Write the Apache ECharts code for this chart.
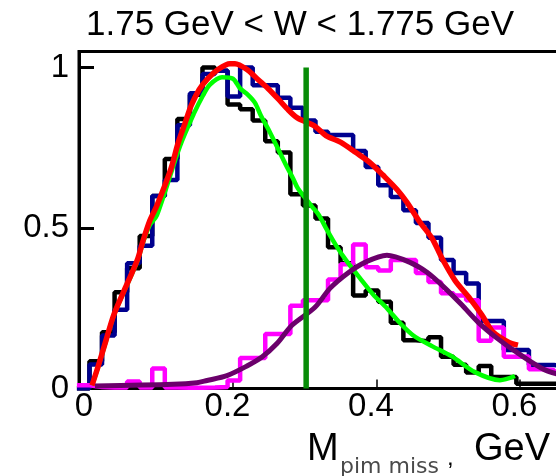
<!DOCTYPE html>
<html>
<head>
<meta charset="utf-8">
<script src="https://cdn.jsdelivr.net/npm/echarts@6/dist/echarts.min.js"></script>
<style>html,body{margin:0;padding:0;background:#fff}#c{width:556px;height:476px}</style>
</head>
<body>
<div id="c"></div>
<script>
// ---- data ----
const titleText = '1.75 GeV < W < 1.775 GeV';
const xTicks = [0, 0.2, 0.4, 0.6];
const yTicks = [0, 0.5, 1];
const binStart = -0.0175;
const binWidth = 0.0175;
// histograms (first entry = bin starting at -0.0175)
const blackHist = [0, 0.085, 0.175, 0.30, 0.375, 0.475, 0.60, 0.715, 0.84, 0.915, 1.0, 0.99, 0.885, 0.87, 0.835, 0.77, 0.735, 0.605, 0.57, 0.53, 0.44, 0.39, 0.29, 0.305, 0.27, 0.205, 0.15, 0.147, 0.16, 0.099, 0.074, 0.05, 0.07, 0.036, 0.036, 0.015, 0.015, 0.015, 0.015, 0.015, 0.015];
const blueHist = [0, 0.075, 0.165, 0.245, 0.39, 0.445, 0.60, 0.65, 0.82, 0.92, 0.98, 0.99, 0.91, 1.0, 0.945, 0.945, 0.906, 0.875, 0.835, 0.80, 0.79, 0.79, 0.74, 0.69, 0.633, 0.597, 0.555, 0.516, 0.47, 0.40, 0.36, 0.327, 0.21, 0.21, 0.12, 0.12, 0.073, 0.073, 0.07, 0.065, 0.06];
const magentaHist = [0.01, 0.005, 0.003, 0.003, 0.022, 0.003, 0.062, 0.003, 0.002, 0.002, 0.003, 0.005, 0.025, 0.095, 0.095, 0.17, 0.17, 0.258, 0.275, 0.275, 0.34, 0.387, 0.449, 0.378, 0.368, 0.40, 0.40, 0.36, 0.332, 0.297, 0.29, 0.275, 0.149, 0.19, 0.099, 0.10, 0.06, 0.058, 0.05, 0.045, 0.04];
// smooth curves
const redX = [0.0035, 0.0118, 0.023, 0.034, 0.0467, 0.0578, 0.0676, 0.0746, 0.0843, 0.094, 0.1136, 0.1233, 0.1331, 0.1415, 0.1526, 0.1652, 0.1791, 0.1958, 0.2028, 0.2195, 0.2348, 0.2488, 0.2627, 0.2753, 0.2892, 0.3129, 0.3296, 0.3505, 0.3714, 0.3909, 0.409, 0.4286, 0.4425, 0.4606, 0.4774, 0.4913, 0.5094, 0.5303, 0.547, 0.5624, 0.5833, 0.5972];
const redY = [0.01, 0.067, 0.15, 0.23, 0.297, 0.353, 0.406, 0.46, 0.524, 0.57, 0.685, 0.763, 0.826, 0.88, 0.93, 0.966, 0.994, 1.012, 1.012, 0.994, 0.963, 0.935, 0.903, 0.872, 0.844, 0.819, 0.788, 0.767, 0.735, 0.704, 0.665, 0.62, 0.58, 0.518, 0.468, 0.406, 0.337, 0.28, 0.229, 0.176, 0.145, 0.135];
const greenX = [0.0035, 0.0118, 0.023, 0.034, 0.0467, 0.0578, 0.0676, 0.0746, 0.0843, 0.094, 0.1261, 0.1456, 0.1582, 0.1679, 0.1847, 0.2, 0.2098, 0.2209, 0.2307, 0.239, 0.2488, 0.2599, 0.2753, 0.2836, 0.2906, 0.3101, 0.3199, 0.3296, 0.3436, 0.3575, 0.377, 0.3951, 0.4146, 0.4328, 0.4509, 0.4774, 0.5052, 0.5373, 0.5721, 0.593];
const greenY = [0.01, 0.065, 0.148, 0.228, 0.295, 0.35, 0.402, 0.455, 0.51, 0.54, 0.755, 0.857, 0.913, 0.947, 0.97, 0.965, 0.935, 0.915, 0.89, 0.85, 0.81, 0.76, 0.69, 0.655, 0.623, 0.567, 0.54, 0.50, 0.446, 0.40, 0.344, 0.294, 0.25, 0.204, 0.166, 0.132, 0.10, 0.051, 0.026, 0.039];
const purpleX = [0.0077, 0.1164, 0.1498, 0.1638, 0.1916, 0.2195, 0.2404, 0.2613, 0.2822, 0.3143, 0.3352, 0.3603, 0.384, 0.4146, 0.4467, 0.4704, 0.4941, 0.5192, 0.5415, 0.5679, 0.5972, 0.6348, 0.67];
const purpleY = [0.008, 0.013, 0.018, 0.025, 0.04, 0.07, 0.098, 0.14, 0.197, 0.253, 0.312, 0.36, 0.393, 0.415, 0.393, 0.362, 0.316, 0.26, 0.207, 0.157, 0.11, 0.058, 0.035];
const cutX = 0.302;
const cutTop = 1.0;

// ---- helpers ----
function histPoints(vals) {
  const pts = vals.map((v, i) => [binStart + i * binWidth, v]);
  pts.push([binStart + vals.length * binWidth, vals[vals.length - 1]]);
  return pts;
}
function zip(xs, ys) { return xs.map((x, i) => [x, ys[i]]); }

const FONT = 'Liberation Sans';
const chart = echarts.init(document.getElementById('c'), null, {renderer: 'canvas'});

function histSeries(vals, color, w) {
  return {type: 'line', data: histPoints(vals), step: 'end', symbol: 'none', clip: true,
    lineStyle: {color: color, width: w}, silent: true};
}
function curveSeries(xs, ys, color, w) {
  return {type: 'line', data: zip(xs, ys), smooth: 0.3, symbol: 'none', clip: true,
    lineStyle: {color: color, width: w}, silent: true};
}

chart.setOption({
  animation: false,
  backgroundColor: '#fff',
  title: {
    text: titleText, left: 86, top: 8, padding: 0,
    textStyle: {fontSize: 35, fontWeight: 'normal', color: '#000', fontFamily: FONT}
  },
  grid: {left: 79, width: 512.7, top: 51.5, height: 337, show: true, borderColor: '#000', borderWidth: 3,
    containLabel: false, outerBoundsMode: 'none'},
  xAxis: {
    type: 'value', min: -0.0146, max: 0.7,
    axisLine: {show: true, onZero: false, lineStyle: {color: '#000', width: 3}},
    axisTick: {show: true, inside: true, length: 9, customValues: xTicks, lineStyle: {color: '#000', width: 1.5}},
    axisLabel: {customValues: xTicks, formatter: v => String(v), fontSize: 33, color: '#000', fontFamily: FONT, margin: 2, padding: [0, 11, 0, 0]},
    splitLine: {show: false}
  },
  yAxis: {
    type: 'value', min: 0, max: 1.05,
    axisLine: {show: true, onZero: false, lineStyle: {color: '#000', width: 3}},
    axisTick: {show: true, inside: true, length: 15, customValues: yTicks, lineStyle: {color: '#000', width: 3}},
    axisLabel: {customValues: yTicks, formatter: v => String(v), fontSize: 33, color: '#000', fontFamily: FONT, margin: 10},
    splitLine: {show: false}
  },
  series: [
    histSeries(blackHist, '#000000', 4.5),
    histSeries(blueHist, '#00008f', 4.5),
    histSeries(magentaHist, '#ff00ff', 4.5),
    curveSeries(greenX, greenY, '#00ff00', 4.5),
    curveSeries(redX, redY, '#ff0000', 5.5),
    curveSeries(purpleX, purpleY, '#6b006b', 5),
    {type: 'line', data: [[cutX, 0], [cutX, cutTop]], symbol: 'none', lineStyle: {color: '#078c07', width: 5.5}, silent: true}
  ],
  graphic: [
    {type: 'text', style: {x: 307, y: 449.8, text: 'M', fontSize: 38, fontFamily: FONT, fill: '#000', align: 'left', verticalAlign: 'middle'}},
    {type: 'text', style: {x: 340, y: 467.5, text: 'pim miss', fontSize: 22, fontFamily: 'DejaVu Sans', fill: '#4a4a4a', align: 'left', verticalAlign: 'middle'}},
    {type: 'text', style: {x: 447, y: 458, text: ',', fontSize: 24, fontFamily: FONT, fill: '#000', align: 'left', verticalAlign: 'middle'}},
    {type: 'text', style: {x: 550, y: 449.8, text: 'GeV', fontSize: 38, fontFamily: FONT, fill: '#000', align: 'right', verticalAlign: 'middle'}}
  ]
});
</script>
</body>
</html>
